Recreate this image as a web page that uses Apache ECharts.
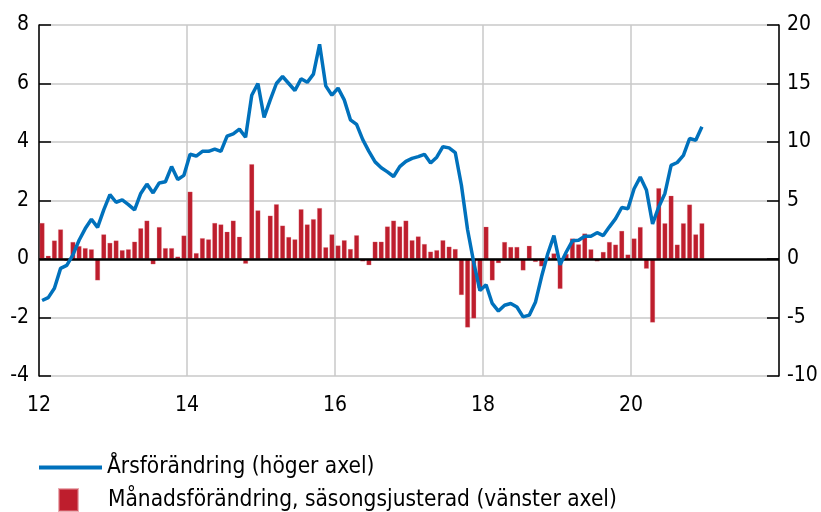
<!DOCTYPE html>
<html>
<head>
<meta charset="utf-8">
<script src="https://cdn.jsdelivr.net/npm/echarts@6/dist/echarts.min.js"></script>
<style>
  html, body { margin: 0; padding: 0; background: #fff; }
  #chart { width: 821px; height: 512px; }
</style>
</head>
<body>
<div id="chart"></div>
<script>
// månadsdata jan 2012 - dec 2020
var startYear = 12;
var xTicks = ['12', '14', '16', '18', '20'];

// Månadsförändring, säsongsjusterad (vänster axel)
var monthly = [
  1.23, 0.11, 0.63, 1.01, -0.06, 0.58, 0.44, 0.37, 0.33, -0.73, 0.84, 0.55,
  0.63, 0.30, 0.33, 0.59, 1.05, 1.31, -0.18, 1.09, 0.37, 0.37, 0.08, 0.80,
  2.30, 0.20, 0.71, 0.67, 1.23, 1.18, 0.93, 1.31, 0.76, -0.16, 3.24, 1.66,
  -0.02, 1.48, 1.87, 1.14, 0.75, 0.67, 1.70, 1.18, 1.36, 1.74, 0.40, 0.84,
  0.46, 0.64, 0.34, 0.81, -0.08, -0.21, 0.59, 0.59, 1.11, 1.31, 1.11, 1.31,
  0.64, 0.77, 0.51, 0.25, 0.30, 0.64, 0.42, 0.34, -1.23, -2.34, -2.03, -1.00,
  1.10, -0.73, -0.14, 0.58, 0.41, 0.41, -0.39, 0.45, -0.10, -0.25, 0.08, 0.19,
  -1.02, 0.17, 0.70, 0.50, 0.87, 0.33, -0.08, 0.24, 0.58, 0.49, 0.96, 0.15,
  0.70, 1.09, -0.33, -2.17, 2.42, 1.22, 2.16, 0.49, 1.22, 1.86, 0.84, 1.22
];

// Årsförändring (höger axel)
var yearly = [
  -3.55, -3.3, -2.5, -0.8, -0.55, 0.35, 1.6, 2.6, 3.4, 2.7, 4.2, 5.5,
  4.85, 5.05, 4.65, 4.2, 5.6, 6.4, 5.65, 6.5, 6.6, 7.9, 6.8, 7.15,
  8.95, 8.8, 9.2, 9.2, 9.4, 9.2, 10.5, 10.7, 11.1, 10.4, 14.0, 15.0,
  12.1, 13.6, 15.0, 15.6, 15.0, 14.4, 15.4, 15.1, 15.8, 18.35, 14.8, 14.0,
  14.6, 13.6, 11.9, 11.5, 10.2, 9.2, 8.3, 7.8, 7.45, 7.05, 7.9, 8.35,
  8.6, 8.75, 8.95, 8.2, 8.7, 9.6, 9.5, 9.1, 6.3, 2.5, -0.3, -2.7,
  -2.2, -3.8, -4.45, -3.95, -3.8, -4.1, -4.95, -4.8, -3.7, -1.5, 0.45, 2.0,
  -0.5, 0.6, 1.55, 1.6, 1.95, 1.95, 2.25, 2.0, 2.75, 3.45, 4.4, 4.3,
  6.0, 7.0, 5.9, 3.0, 4.45, 5.6, 8.0, 8.25, 8.85, 10.3, 10.15, 11.3
];

var nameLine = 'Årsförändring (höger axel)';
var nameBar = 'Månadsförändring, säsongsjusterad (vänster axel)';

// x-position mitt i varje månad
function toXY(arr) {
  return arr.map(function (v, i) { return [startYear + (i + 0.5) / 12, v]; });
}

var font = '"Liberation Sans Narrow", "DejaVu Sans Condensed", sans-serif';
var chart = echarts.init(document.getElementById('chart'));

chart.setOption({
  animation: false,
  textStyle: { fontFamily: font },
  grid: { left: 39, right: 42, top: 25, bottom: 136 },
  legend: [{
    left: 34, top: 451, orient: 'vertical',
    icon: 'rect', itemWidth: 63, itemHeight: 4,
    textStyle: { fontSize: 22.5, color: '#000', fontFamily: font },
    data: [nameLine]
  }, {
    left: 53, top: 483, orient: 'vertical',
    icon: 'rect', itemWidth: 19, itemHeight: 22,
    textStyle: { fontSize: 22.5, color: '#000', fontFamily: font, padding: [0, 0, 0, 25] },
    data: [nameBar]
  }],
  xAxis: {
    type: 'value', min: 12, max: 22, interval: 2,
    axisLine: { show: false },
    axisTick: { show: false },
    axisLabel: {
      fontSize: 21, color: '#000', margin: 19,
      formatter: function (v) {
        var s = String(Math.round(v));
        return xTicks.indexOf(s) >= 0 ? s : '';
      }
    },
    splitLine: { lineStyle: { color: '#c8c8c8', width: 1.5 } }
  },
  yAxis: [{
    type: 'value', min: -4, max: 8, interval: 2,
    axisLine: { show: true, lineStyle: { color: '#000', width: 1.5 } },
    axisTick: { show: true, inside: true, length: 12, lineStyle: { color: '#000', width: 1.5 } },
    axisLabel: { fontSize: 21, color: '#000', margin: 10 },
    splitLine: { lineStyle: { color: '#c8c8c8', width: 1.5 } }
  }, {
    type: 'value', min: -10, max: 20, interval: 5,
    axisLine: { show: true, lineStyle: { color: '#000', width: 1.5 } },
    axisTick: { show: true, inside: true, length: 12, lineStyle: { color: '#000', width: 1.5 } },
    axisLabel: { fontSize: 21, color: '#000', margin: 8 },
    splitLine: { show: false }
  }],
  series: [{
    name: nameBar,
    type: 'bar',
    yAxisIndex: 0,
    barWidth: 4.8,
    itemStyle: { color: '#be1e2d', borderColor: 'rgba(220,120,130,0.6)', borderWidth: 0.4 },
    data: toXY(monthly),
    markLine: {
      silent: true, symbol: 'none', label: { show: false },
      lineStyle: { color: '#000', width: 2.5, type: 'solid' },
      data: [{ yAxis: 0 }]
    }
  }, {
    name: nameLine,
    type: 'line',
    yAxisIndex: 1,
    z: 5,
    symbol: 'none',
    lineStyle: { color: '#0071bc', width: 3.5 },
    itemStyle: { color: '#0071bc' },
    data: toXY(yearly)
  }]
});
</script>
</body>
</html>
